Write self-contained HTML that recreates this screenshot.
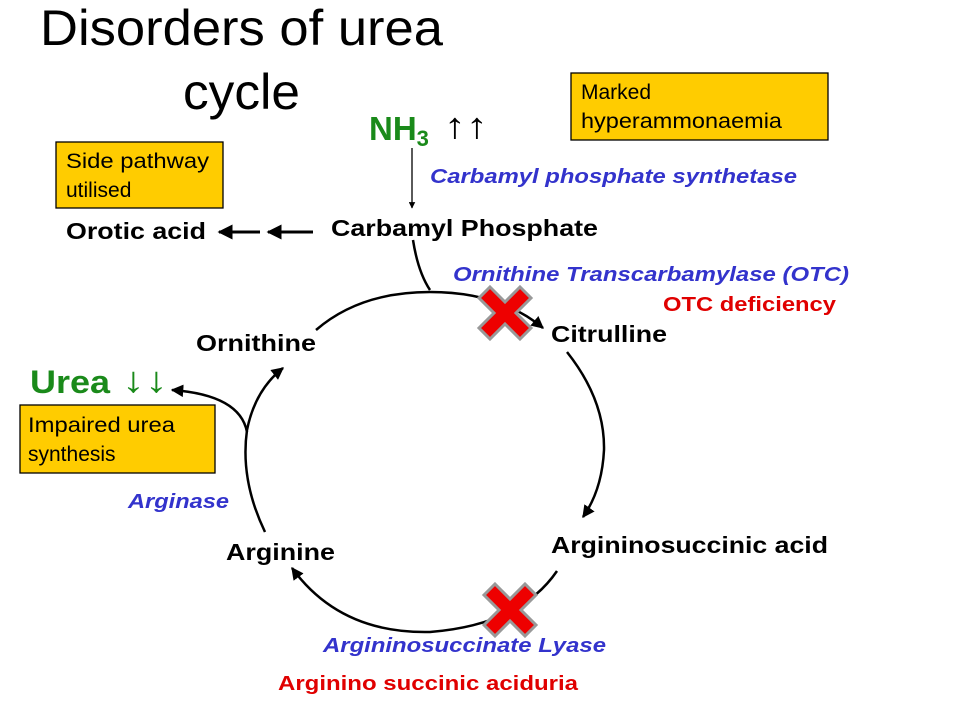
<!DOCTYPE html>
<html><head><meta charset="utf-8"><style>
html,body{margin:0;padding:0;background:#fff;}
svg{display:block;font-family:"Liberation Sans",Arial,sans-serif;}
.b{font-weight:bold;font-size:23px;fill:#000;}
.e{font-weight:bold;font-style:italic;font-size:20px;fill:#3333CC;}
.r{font-weight:bold;font-size:20px;fill:#E00000;}
.bx{fill:#FFCC00;stroke:#000;stroke-width:1.3;}
.bt{font-size:21px;fill:#000;}
</style></head><body>
<svg width="960" height="720" viewBox="0 0 960 720">
<defs>
<marker id="a" viewBox="0 0 10 10" refX="9" refY="5" markerWidth="5" markerHeight="5" orient="auto"><path d="M0,0 L10,5 L0,10 z" fill="#000"/></marker>
<g id="x"><path d="M-15,-26 L0,-11 L15,-26 L26,-15 L11,0 L26,15 L15,26 L0,11 L-15,26 L-26,15 L-11,0 L-26,-15 z" fill="#EE0000" stroke="#999" stroke-width="3"/></g>
</defs>
<rect width="960" height="720" fill="#fff"/>
<text x="40" y="45" font-size="50" fill="#000" textLength="403" lengthAdjust="spacingAndGlyphs">Disorders of urea</text>
<text x="183" y="109" font-size="50" fill="#000" textLength="117" lengthAdjust="spacingAndGlyphs">cycle</text>
<text x="369" y="140" font-size="33" font-weight="bold" fill="#1A8A1A">NH<tspan font-size="22" dy="6">3</tspan></text>
<text x="444" y="138" font-size="36" fill="#000" textLength="44" lengthAdjust="spacingAndGlyphs">↑↑</text>
<rect class="bx" x="571" y="73" width="257" height="67"/>
<text class="bt" x="581" y="99">Marked</text><text class="bt" x="581" y="128" textLength="201" lengthAdjust="spacingAndGlyphs">hyperammonaemia</text>
<rect class="bx" x="56" y="142" width="167" height="66"/>
<text class="bt" x="66" y="168" textLength="143" lengthAdjust="spacingAndGlyphs">Side pathway</text><text class="bt" x="66" y="197">utilised</text>
<rect class="bx" x="20" y="405" width="195" height="68"/>
<text class="bt" x="28" y="432" textLength="147" lengthAdjust="spacingAndGlyphs">Impaired urea</text><text class="bt" x="28" y="461">synthesis</text>
<line x1="412" y1="148" x2="412" y2="208" stroke="#000" stroke-width="1.3" marker-end="url(#a)"/>
<text class="e" x="430" y="183" textLength="367" lengthAdjust="spacingAndGlyphs">Carbamyl phosphate synthetase</text>
<text class="b" x="331" y="236" textLength="267" lengthAdjust="spacingAndGlyphs">Carbamyl Phosphate</text>
<text class="b" x="66" y="239" textLength="140" lengthAdjust="spacingAndGlyphs">Orotic acid</text>
<line x1="313" y1="232" x2="268" y2="232" stroke="#000" stroke-width="3" marker-end="url(#a)"/>
<line x1="260" y1="232" x2="219" y2="232" stroke="#000" stroke-width="3" marker-end="url(#a)"/>
<text class="e" x="453" y="281" textLength="396" lengthAdjust="spacingAndGlyphs">Ornithine Transcarbamylase (OTC)</text>
<text class="r" x="663" y="311" textLength="173" lengthAdjust="spacingAndGlyphs">OTC deficiency</text>
<g fill="none" stroke="#000" stroke-width="2.5">
<path d="M413,240 Q418,272 430,290"/>
<path d="M316,330 Q360,292 430,292 Q500,292 543,328" marker-end="url(#a)"/>
<path d="M567,352 Q605,400 604,450 Q602,490 583,517" marker-end="url(#a)"/>
<path d="M557,571 Q520,625 430,632 Q340,634 292,568" marker-end="url(#a)"/>
<path d="M265,532 Q240,480 247,430 Q255,390 283,368" marker-end="url(#a)"/>
<path d="M247,432 Q240,395 172,390" marker-end="url(#a)"/>
</g>
<use href="#x" x="505" y="313"/>
<use href="#x" x="510" y="610"/>
<text class="b" x="196" y="351" textLength="120" lengthAdjust="spacingAndGlyphs">Ornithine</text>
<text class="b" x="551" y="342" textLength="116" lengthAdjust="spacingAndGlyphs">Citrulline</text>
<text x="30" y="393" font-size="32" font-weight="bold" fill="#1A8A1A" textLength="80" lengthAdjust="spacingAndGlyphs">Urea</text>
<text x="122" y="392" font-size="36" fill="#1A8A1A" textLength="46" lengthAdjust="spacingAndGlyphs">↓↓</text>
<text class="e" x="128" y="508" textLength="101" lengthAdjust="spacingAndGlyphs">Arginase</text>
<text class="b" x="226" y="560" textLength="109" lengthAdjust="spacingAndGlyphs">Arginine</text>
<text class="b" x="551" y="553" textLength="277" lengthAdjust="spacingAndGlyphs">Argininosuccinic acid</text>
<text class="e" x="323" y="652" textLength="283" lengthAdjust="spacingAndGlyphs">Argininosuccinate Lyase</text>
<text class="r" x="278" y="690" textLength="300" lengthAdjust="spacingAndGlyphs">Arginino succinic aciduria</text>
</svg>
</body></html>
